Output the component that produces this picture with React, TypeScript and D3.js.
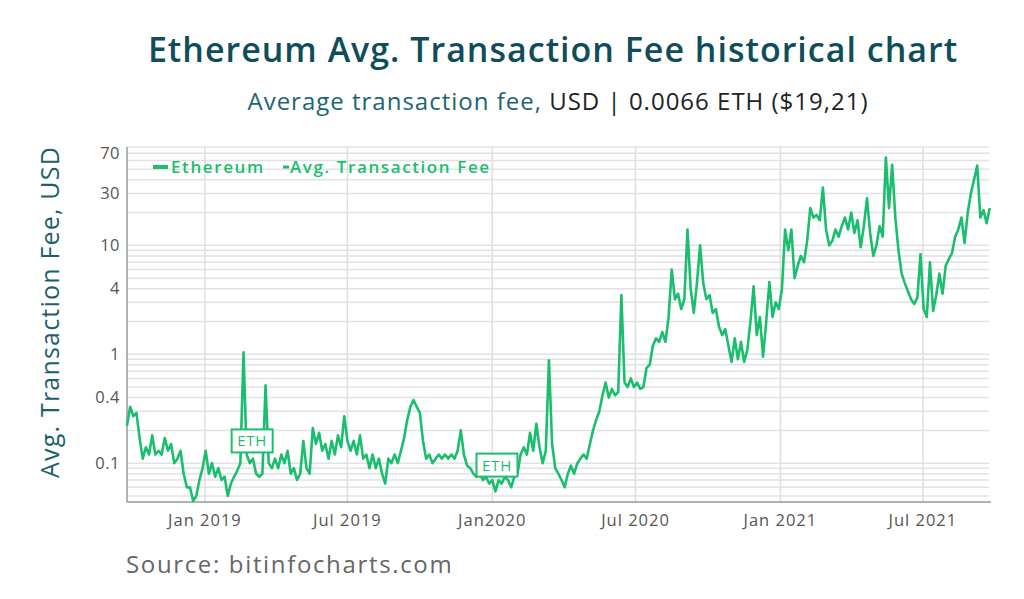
import React from 'react';
import * as d3 from 'd3';

// Ethereum average transaction fee (USD), one reading every 4 days
const startDate = new Date(2018, 8, 24);
const endDate = new Date(2021, 8, 23);
const stepDays = 4;

const fees: number[] = [
  0.22, 0.33, 0.27, 0.29, 0.17, 0.11, 0.14, 0.12, 0.18, 0.12,
  0.13, 0.12, 0.17, 0.13, 0.15, 0.1, 0.11, 0.13, 0.08, 0.06,
  0.06, 0.045, 0.05, 0.07, 0.09, 0.13, 0.08, 0.1, 0.075, 0.09,
  0.07, 0.075, 0.05, 0.065, 0.075, 0.085, 0.1, 1.04, 0.12, 0.1,
  0.11, 0.08, 0.075, 0.08, 0.52, 0.1, 0.09, 0.11, 0.09, 0.12,
  0.1, 0.13, 0.08, 0.09, 0.07, 0.08, 0.16, 0.09, 0.08, 0.21,
  0.15, 0.19, 0.13, 0.15, 0.11, 0.16, 0.12, 0.18, 0.14, 0.27,
  0.16, 0.13, 0.16, 0.12, 0.18, 0.11, 0.12, 0.09, 0.12, 0.09,
  0.11, 0.08, 0.065, 0.11, 0.1, 0.12, 0.1, 0.13, 0.17, 0.25,
  0.33, 0.38, 0.33, 0.29, 0.16, 0.11, 0.12, 0.1, 0.11, 0.12,
  0.11, 0.12, 0.11, 0.12, 0.11, 0.13, 0.2, 0.12, 0.095, 0.09,
  0.08, 0.075, 0.08, 0.07, 0.075, 0.065, 0.07, 0.055, 0.07, 0.065,
  0.075, 0.07, 0.06, 0.075, 0.08, 0.12, 0.14, 0.12, 0.19, 0.13,
  0.23, 0.14, 0.1, 0.13, 0.88, 0.15, 0.09, 0.08, 0.07, 0.06,
  0.08, 0.095, 0.08, 0.1, 0.11, 0.12, 0.11, 0.15, 0.2, 0.25,
  0.3, 0.42, 0.55, 0.4, 0.48, 0.42, 0.45, 3.5, 0.55, 0.5,
  0.6, 0.5, 0.55, 0.48, 0.5, 0.75, 0.8, 1.2, 1.4, 1.3,
  1.6, 1.3, 2.2, 6.0, 3.2, 3.6, 2.6, 3.2, 14, 4.0,
  2.4, 4.5, 10, 4.5, 3.2, 3.5, 2.4, 2.6, 1.8, 1.5,
  1.7, 1.2, 0.85, 1.4, 0.9, 1.3, 0.85, 1.1, 2.0, 4.2,
  1.5, 2.2, 0.95, 2.0, 4.6, 2.2, 3.0, 2.6, 4.0, 14,
  9, 14, 5.0, 6.5, 8, 7, 11, 22, 18, 19,
  17, 34, 14, 10, 11, 14, 12, 15, 18, 14,
  20, 13, 17, 9.6, 15, 27, 13, 8, 10, 15,
  12, 64, 22, 55, 18, 9, 5.5, 4.5, 3.8, 3.2,
  2.9, 3.3, 8.3, 2.6, 2.2, 7.0, 2.5, 3.5, 5.5, 3.6,
  6.5, 7.5, 8.5, 12, 14, 18, 10.5, 20, 30, 40,
  54, 18, 21, 16, 22,
];

const yTickValues = [70, 30, 10, 4, 1, 0.4, 0.1];
const xTickDates = ['2019-01-01', '2019-07-01', '2020-01-01', '2020-07-01', '2021-01-01', '2021-07-01'];
const xTickLabels = ['Jan 2019', 'Jul 2019', 'Jan2020', 'Jul 2020', 'Jan 2021', 'Jul 2021'];

const annotationDates = ['2019-03-02', '2020-01-07'];
const annotationValues = [0.16, 0.096];
const annotationLabels = ['ETH', 'ETH'];

const legendLabels = ['Ethereum', 'Avg. Transaction Fee'];

const green = '#1bbe6e';
const teal = '#0f4d5b';
const font = '"Open Sans", sans-serif';

const parseDate = d3.timeParse('%Y-%m-%d');

const App: React.FC = () => {
  const width = 1024;
  const height = 599;
  const marginLeft = 127;
  const marginRight = 35;
  const marginTop = 147;
  const marginBottom = 97;

  const data = fees.map((v, i) => ({ date: d3.timeDay.offset(startDate, i * stepDays), value: v }));

  const x = d3.scaleTime()
    .domain([startDate, endDate])
    .range([marginLeft, width - marginRight]);

  const y = d3.scaleLog()
    .domain([0.044, 80])
    .range([height - marginBottom, marginTop]);

  const line = d3.line<{ date: Date; value: number }>()
    .x(d => x(d.date))
    .y(d => y(d.value));

  // minor log grid: 1..9 x 10^k inside the domain
  const gridValues: number[] = [];
  for (let k = -2; k <= 1; k++) {
    for (let m = 1; m <= 9; m++) {
      const v = m * Math.pow(10, k);
      if (v >= 0.044 && v <= 80) gridValues.push(v);
    }
  }

  const xTicks = xTickDates.map(d => parseDate(d) as Date);
  const plotBottom = height - marginBottom;
  const plotRight = width - marginRight;

  return (
    <svg width={width} height={height} style={{ position: 'absolute', left: 0, top: 0, background: '#fff' }}>
      <text x={553} y={62} textAnchor="middle" fontFamily={font} fontWeight={600} fontSize={34} letterSpacing={1} fill={teal}>
        Ethereum Avg. Transaction Fee historical chart
      </text>
      <text x={558} y={110} textAnchor="middle" fontFamily={font} fontSize={24} letterSpacing={1}>
        <tspan fill="#1d6473">Average transaction fee,</tspan>
        <tspan fill="#222"> USD | 0.0066 ETH ($19,21)</tspan>
      </text>

      <text
        transform="translate(59,312) rotate(-90)"
        textAnchor="middle"
        fontFamily={font}
        fontSize={25}
        letterSpacing={1.2}
        fill="#1d5f6e"
      >
        Avg. Transaction Fee, USD
      </text>

      {gridValues.map(v => (
        <line key={`g${v}`} x1={marginLeft} x2={plotRight} y1={y(v)} y2={y(v)} stroke="#e2e2e2" strokeWidth={1.5} />
      ))}
      {xTicks.map((d, i) => (
        <line key={`vx${i}`} x1={x(d)} x2={x(d)} y1={marginTop} y2={plotBottom} stroke="#dedede" strokeWidth={1.5} />
      ))}

      <line x1={marginLeft} x2={marginLeft} y1={marginTop} y2={plotBottom} stroke="#999" strokeWidth={1.5} />
      <line x1={marginLeft} x2={plotRight + 2} y1={plotBottom} y2={plotBottom} stroke="#999" strokeWidth={1.5} />

      {yTickValues.map(v => (
        <text key={`yt${v}`} x={marginLeft - 7} y={y(v)} dy="0.35em" textAnchor="end" fontFamily={font} fontSize={16.5} letterSpacing={0.5} fill="#555">
          {v}
        </text>
      ))}
      {xTicks.map((d, i) => (
        <text key={`xt${i}`} x={x(d)} y={526} textAnchor="middle" fontFamily={font} fontSize={16.5} letterSpacing={1} fill="#555">
          {xTickLabels[i]}
        </text>
      ))}

      <path d={line(data) ?? ''} fill="none" stroke={green} strokeWidth={2.6} strokeLinejoin="round" />

      {annotationDates.map((d, i) => {
        const cx = x(parseDate(d) as Date);
        const cy = y(annotationValues[i]);
        return (
          <g key={`a${i}`}>
            <rect x={cx - 20.5} y={cy - 11.5} width={41} height={23} fill="#fff" stroke={green} strokeWidth={2} />
            <text x={cx} y={cy} dy="0.36em" textAnchor="middle" fontFamily={font} fontSize={15} fill={green} letterSpacing={0.8}>
              {annotationLabels[i]}
            </text>
          </g>
        );
      })}

      <g fontFamily={font} fontSize={17} fontWeight={600} fill={green} letterSpacing={1.6}>
        <line x1={153} x2={168} y1={167} y2={167} stroke={green} strokeWidth={4} />
        <text x={171} y={167} dy="0.35em">{legendLabels[0]}</text>
        <line x1={283} x2={289} y1={167} y2={167} stroke={green} strokeWidth={3} />
        <text x={290} y={167} dy="0.35em">{legendLabels[1]}</text>
      </g>

      <text x={126} y={573} fontFamily={font} fontSize={24} fill="#666" letterSpacing={1.65}>
        Source: bitinfocharts.com
      </text>
    </svg>
  );
};

export default App;
